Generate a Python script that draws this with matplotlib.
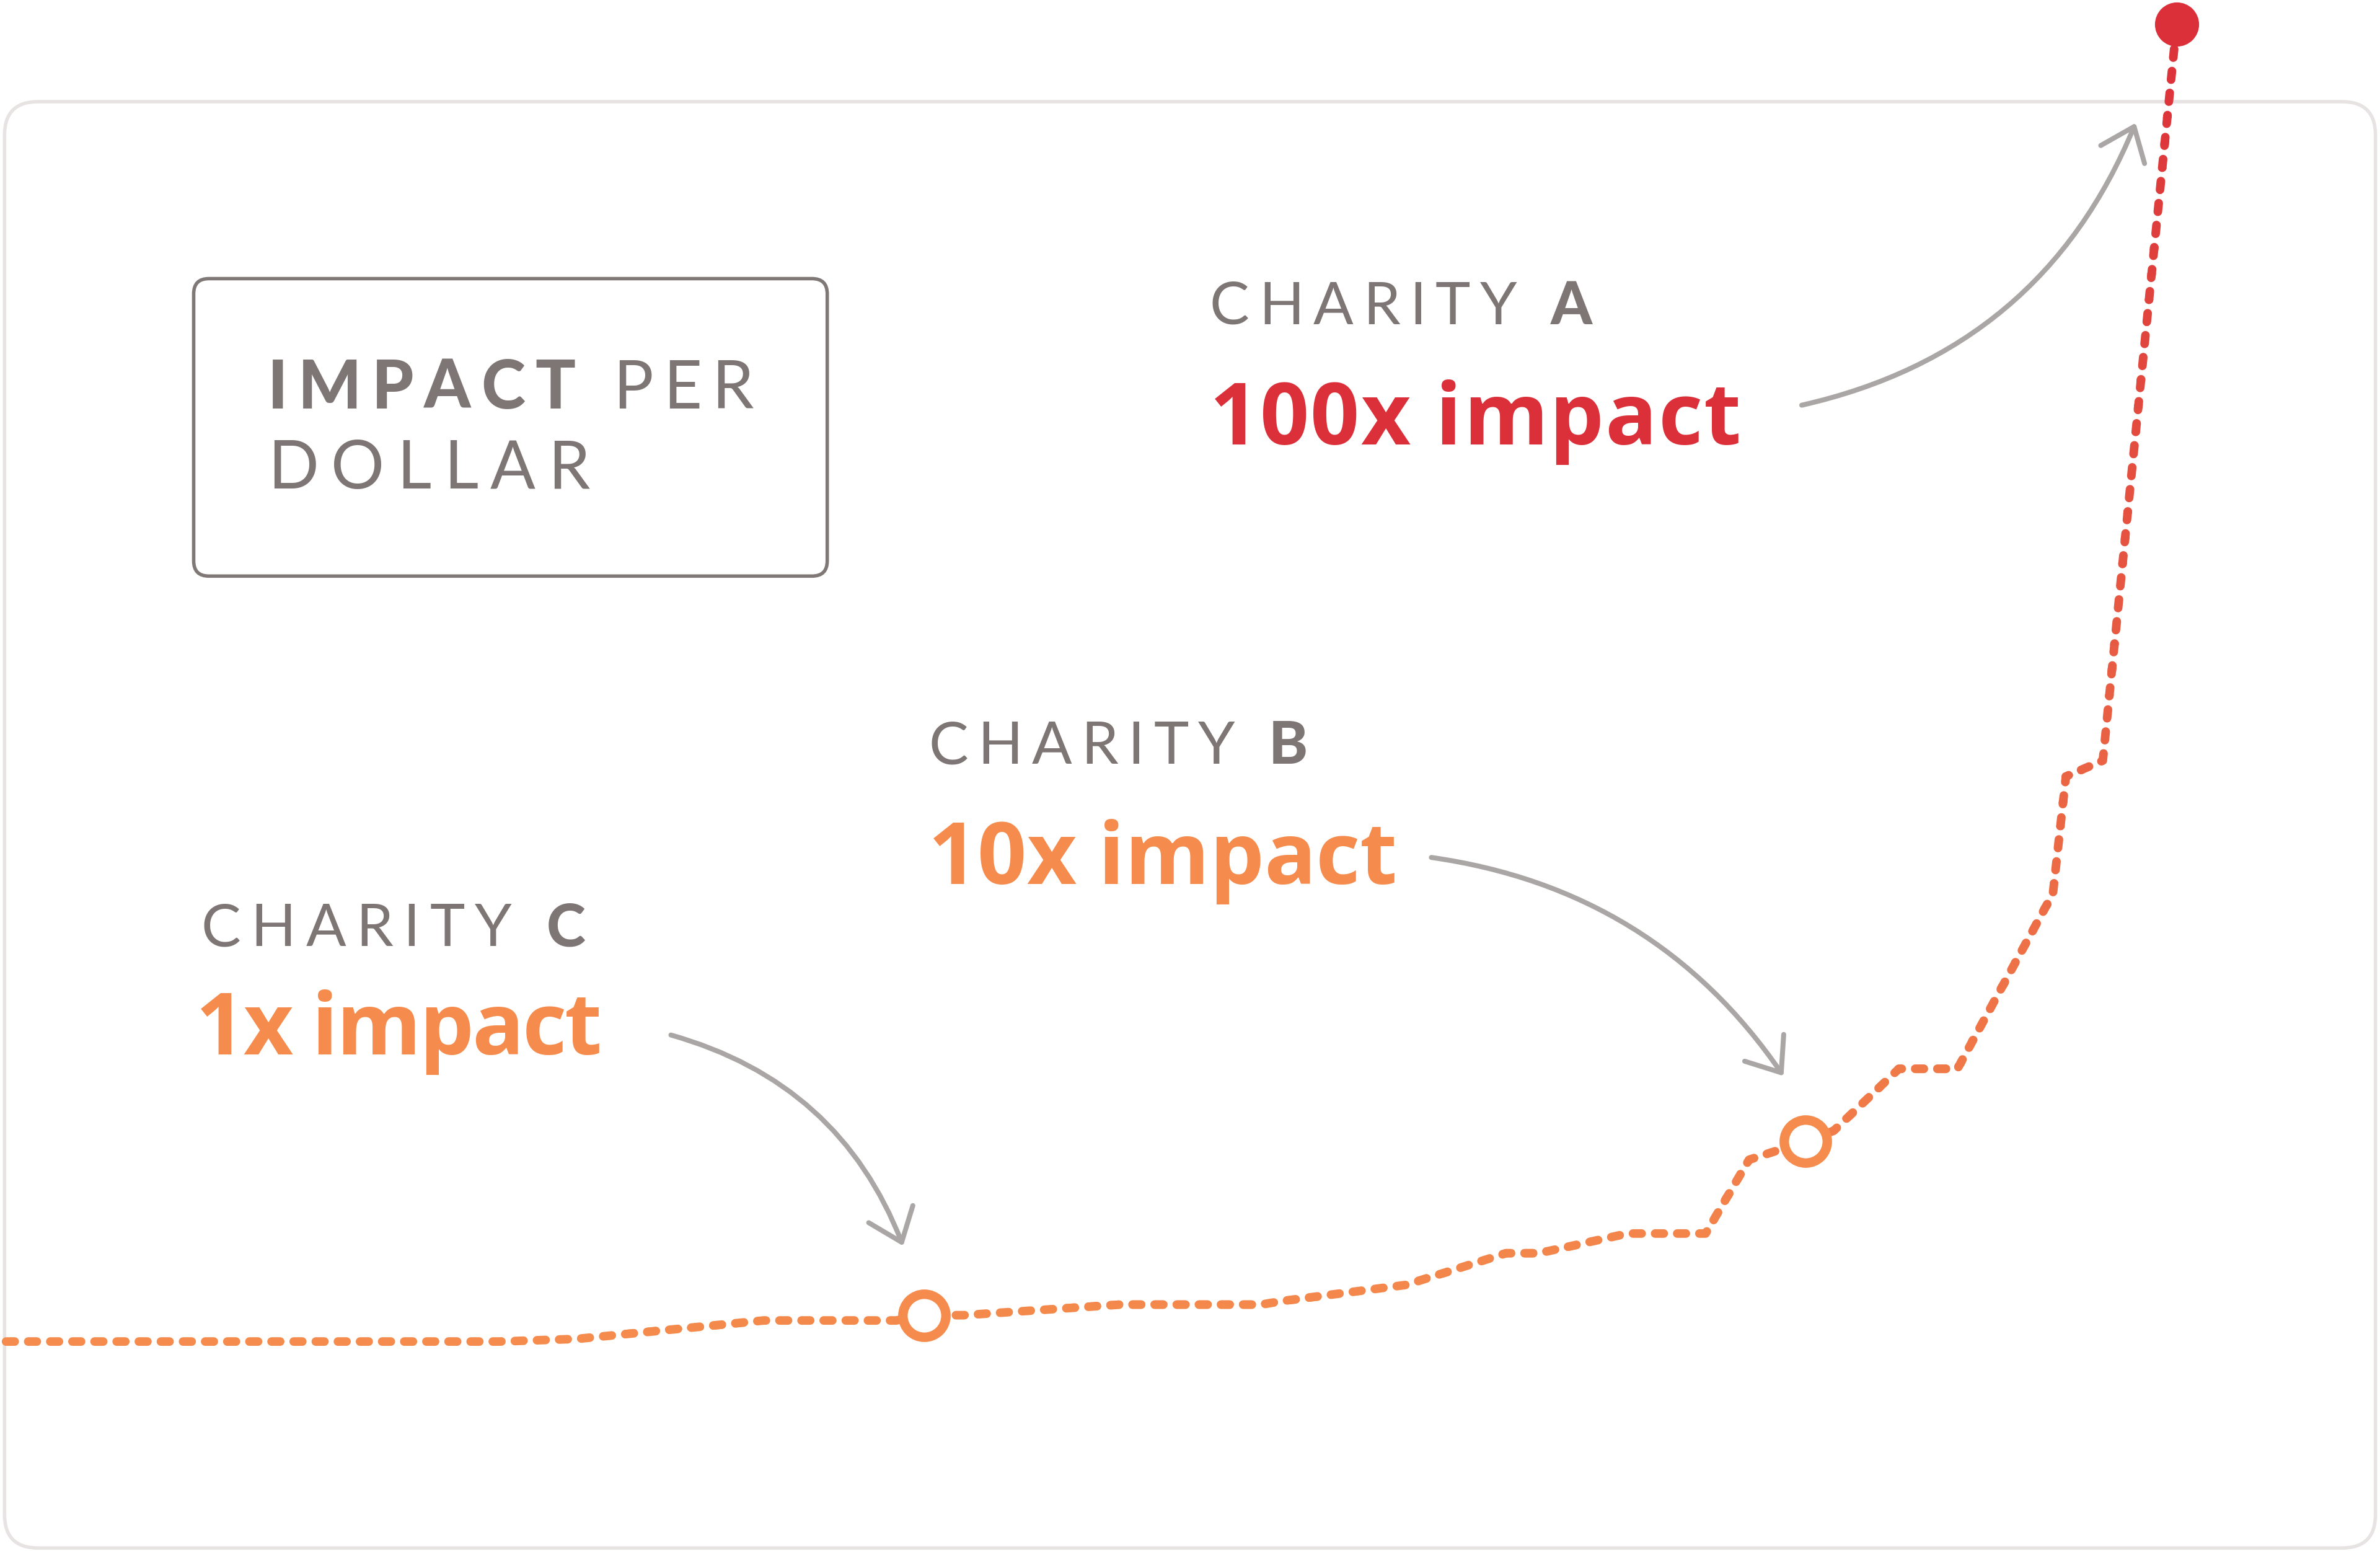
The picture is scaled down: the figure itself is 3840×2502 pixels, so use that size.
import numpy as np
import matplotlib.pyplot as plt
import matplotlib.transforms as mtransforms
from matplotlib.colors import to_rgb
from matplotlib.font_manager import FontProperties
from matplotlib.patches import FancyArrowPatch, FancyBboxPatch, Rectangle

CAPS_FONT = "Lato"
BIG_FONT = "Open Sans"
GREY = "#7e7674"
ORANGE = "#f58b4c"
RED = "#db3039"
ARROW = "#aba6a6"
BORDER = "#e8e3e3"
DPI = 250

# charities ranked by cost-effectiveness (0-100) vs. impact per dollar (0-100)
rank = [0, 22.7, 26.3, 34.9, 41.0, 42.3, 44.1, 51.3, 57.8, 58.9, 64.5, 69.1,
        70.6, 74.7, 78.3, 80.3, 81.6, 82.9, 84.2, 87.2, 89.9, 94.3, 94.9,
        96.6, 100.0]
impact = [0, 0, 0.2, 1.6, 1.6, 2.0, 2.0, 2.8, 2.8, 3.1, 4.3, 6.7,
          6.7, 8.2, 8.2, 13.8, 14.5, 15.2, 16.0, 20.7, 20.7, 34.0, 42.9,
          44.1, 100.0]

charity_names = ["CHARITY C", "CHARITY B", "CHARITY A"]
charity_rank = [42.3, 82.9, 100.0]
charity_impact = [2.0, 15.2, 100.0]
charity_labels = ["1x impact", "10x impact", "100x impact"]


def tracked_text(ax, x, y, runs, size, color, width):
    """Draw runs of (text, family, weight) from x on baseline y, letter-spaced to width."""
    fig = ax.figure
    renderer = fig.canvas.get_renderer()
    chars = []
    for s, family, weight in runs:
        prop = FontProperties(family=family, weight=weight, size=size)
        chars += [(ch, prop) for ch in s]

    def w_of(s, prop):
        return renderer.get_text_width_height_descent(s, prop, ismath=False)[0]

    adv = [w_of("|" + ch + "|", p) - w_of("||", p) for ch, p in chars]
    natural = sum(adv[:-1]) + w_of(*chars[-1])
    px = ax.transData.transform((1, 0))[0] - ax.transData.transform((0, 0))[0]
    track = (width * px - natural) / (len(chars) - 1)
    off = 0.0
    for (ch, prop), a in zip(chars, adv):
        tr = mtransforms.offset_copy(ax.transData, fig, x=off, y=0, units="dots")
        ax.text(x, y, ch, fontproperties=prop, color=color, transform=tr,
                ha="left", va="baseline")
        off += a + track


fig = plt.figure(figsize=(3840 / DPI, 2502 / DPI), dpi=DPI)
fig.patch.set_facecolor("white")

# layout axes in picture units (1568 x 1022)
ov = fig.add_axes([0, 0, 1, 1])
ov.set_xlim(0, 1568)
ov.set_ylim(1022, 0)
ov.axis("off")
ov.set_zorder(0)

ov.add_patch(FancyBboxPatch((3, 67), 1562, 953, boxstyle="round,pad=0,rounding_size=22",
                            fc="white", ec=BORDER, lw=1.6))
ov.add_patch(FancyBboxPatch((127.6, 183.6), 417.4, 196, boxstyle="round,pad=0,rounding_size=10",
                            fc="none", ec="#7f7876", lw=1.6))

tracked_text(ov, 176.5, 269, [("IMPACT", CAPS_FONT, "black"), (" PER", CAPS_FONT, "normal")],
             31, GREY, 320)
tracked_text(ov, 176.5, 322, [("DOLLAR", CAPS_FONT, "normal")], 31, GREY, 212)

label_pos = [(132.5, 623.4, 253.4, 129, 695, 267.6, ORANGE),
             (611.7, 503.3, 250, 611.7, 582.3, 308.7, ORANGE),
             (797, 213.5, 252, 797, 292.7, 350, RED)]
for name, label, (nx, ny, nw, lx, ly, lw_, col) in zip(charity_names, charity_labels, label_pos):
    word, letter = name.split(" ")
    tracked_text(ov, nx, ny, [(word + " ", CAPS_FONT, "normal"), (letter, CAPS_FONT, "black")],
                 27.5, GREY, nw)
    tracked_text(ov, lx, ly, [(label, BIG_FONT, "bold")], 40, col, lw_)

arrows = [((442, 682), (595, 821), -0.25),
          ((943, 565), (1175, 709), -0.22),
          ((1187, 267), (1407, 81), 0.26)]
for start, end, rad in arrows:
    ov.add_patch(FancyArrowPatch(start, end, connectionstyle=f"arc3,rad={rad}",
                                 arrowstyle="->,head_length=0.7,head_width=0.55",
                                 mutation_scale=20, color=ARROW, lw=2.3,
                                 shrinkA=0, shrinkB=0, capstyle="round"))

# data axes
ax = fig.add_axes([0, 0, 1, 1])
ax.set_xlim(-0.28, 109.37)
ax.set_ylim(-15.9, 101.84)
ax.axis("off")
ax.patch.set_visible(False)
ax.set_zorder(1)

c0, c1 = np.array(to_rgb(ORANGE)), np.array(to_rgb(RED))
edges = np.linspace(-3, 103, 54)
for y0, y1 in zip(edges[:-1], edges[1:]):
    t = np.clip(0.5 * (y0 + y1) / 100, 0, 1)
    line, = ax.plot(rank, impact, color=(1 - t) * c0 + t * c1, lw=4.0,
                    linestyle=(0, (1.0, 1.57)), dash_capstyle="round",
                    dash_joinstyle="round")
    line.set_clip_path(Rectangle((-5, y0 - 0.15), 120, y1 - y0 + 0.3,
                                 transform=ax.transData))

ax.plot(charity_rank[:2], charity_impact[:2], "o", ms=20, mfc="white",
        mec=ORANGE, mew=4.4, zorder=5)
ax.plot(charity_rank[2:], charity_impact[2:], "o", ms=20.5, color=RED, mew=0, zorder=5)

fig.savefig("out.png", dpi=DPI, facecolor="white")
